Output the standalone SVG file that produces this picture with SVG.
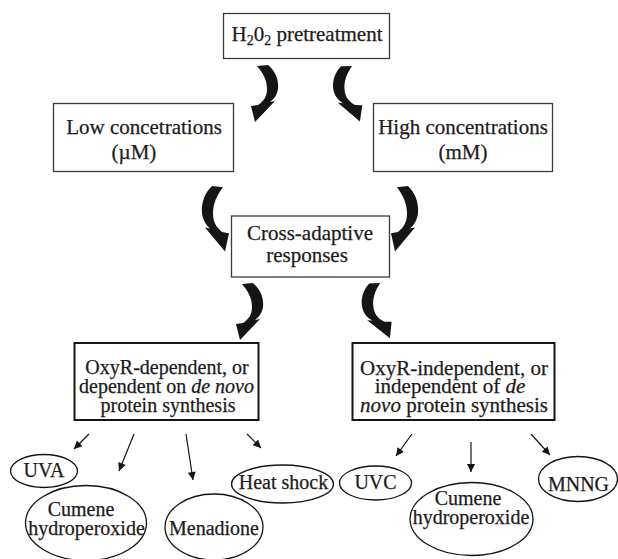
<svg xmlns="http://www.w3.org/2000/svg" xmlns:xlink="http://www.w3.org/1999/xlink" width="618" height="559" viewBox="0 0 618 559">
<style>
.box{fill:#fff;stroke:#3a3a3a;stroke-width:1.3}
.box2{fill:#fff;stroke:#151515;stroke-width:2}
.ell{fill:#fff;stroke:#151515;stroke-width:1.3}
.tx{font-family:'Liberation Serif','Times New Roman',serif;fill:#1e1b1c;stroke:#1e1b1c;stroke-width:0.25;text-anchor:middle}
.t21{font-size:21px}
.t20{font-size:20px}
.sub{font-size:14px}
.it{font-style:italic}
.thin{stroke:#151515;stroke-width:1.2;fill:none;marker-end:url(#ah)}
.big{fill:#151515}
</style>
<defs>
<marker id="ah" viewBox="0 0 10 10" refX="10" refY="5" markerUnits="userSpaceOnUse" markerWidth="9" markerHeight="8" orient="auto">
<path d="M0,0 L10,5 L0,10 z" fill="#151515"/>
</marker>
<path id="crv" d="M0,1 L11,0 C18,6 22,14 21,24 C20,30 17,34 13,37 L18,36 L-2,57 L-6,41 L1,40 C7,36 10,31 10,24 C10,15 6,8 0,1 Z"/>
</defs>

<g id="connectors">
<use xlink:href="#crv" class="big" transform="translate(257,65)"/>
<use xlink:href="#crv" class="big" transform="translate(352,65) rotate(-6) scale(-1,1)"/>
<use xlink:href="#crv" class="big" transform="translate(223,186) scale(-1,1.15)"/>
<use xlink:href="#crv" class="big" transform="translate(397,186) scale(1,1.15)"/>
<use xlink:href="#crv" class="big" transform="translate(242,283)"/>
<use xlink:href="#crv" class="big" transform="translate(380,282) rotate(-8) scale(-1,1)"/>
<line class="thin" x1="89" y1="434" x2="74" y2="449"/>
<line class="thin" x1="134" y1="434" x2="119" y2="471"/>
<line class="thin" x1="186" y1="434" x2="193" y2="480"/>
<line class="thin" x1="247" y1="434" x2="261" y2="448"/>
<line class="thin" x1="412" y1="434" x2="396" y2="456"/>
<line class="thin" x1="471" y1="442" x2="471" y2="472"/>
<line class="thin" x1="531" y1="434" x2="550" y2="455"/>
</g>

<g id="h2o2">
<rect class="box" x="223.5" y="13.5" width="166" height="45"/>
<text class="tx t21" x="307" y="41">H<tspan class="sub" dy="4">2</tspan><tspan dy="-4">0</tspan><tspan class="sub" dy="4">2</tspan><tspan dy="-4"> pretreatment</tspan></text>
</g>

<g id="low">
<rect class="box" x="53.5" y="103.5" width="180" height="68"/>
<text class="tx t21"><tspan x="144" y="134">Low concetrations</tspan><tspan x="134" y="159">(µM)</tspan></text>
</g>

<g id="high">
<rect class="box" x="373.5" y="103.5" width="179" height="68"/>
<text class="tx t21"><tspan x="463" y="134">High concentrations</tspan><tspan x="463" y="159">(mM)</tspan></text>
</g>

<g id="cross">
<rect class="box" x="231.5" y="216" width="158" height="61"/>
<text class="tx t21"><tspan x="310" y="240">Cross-adaptive</tspan><tspan x="307" y="262">responses</tspan></text>
</g>

<g id="oxyr-dep">
<rect class="box2" x="74.5" y="343" width="184" height="77"/>
<text class="tx t20"><tspan x="167" y="374">OxyR-dependent, or</tspan><tspan x="166.5" y="393">dependent on <tspan class="it">de novo</tspan></tspan><tspan x="168" y="412">protein synthesis</tspan></text>
</g>

<g id="oxyr-indep">
<rect class="box2" x="352.5" y="343" width="202" height="77"/>
<text class="tx t21"><tspan x="454" y="375">OxyR-independent, or</tspan><tspan x="450" y="393">independent of <tspan class="it">de</tspan></tspan><tspan x="454" y="412"><tspan class="it">novo</tspan> protein synthesis</tspan></text>
</g>

<g id="uva">
<ellipse class="ell" cx="44" cy="471" rx="33.5" ry="16.5"/>
<text class="tx t20" x="44" y="476.5">UVA</text>
</g>

<g id="cumene-left">
<ellipse class="ell" cx="86" cy="523" rx="60.5" ry="37.5"/>
<text class="tx t20"><tspan x="81" y="516">Cumene</tspan><tspan x="86.5" y="535">hydroperoxide</tspan></text>
</g>

<g id="menadione">
<ellipse class="ell" cx="214" cy="527" rx="49" ry="33"/>
<text class="tx t20" x="214" y="535">Menadione</text>
</g>

<g id="heat-shock">
<ellipse class="ell" cx="282.5" cy="484" rx="51" ry="19"/>
<text class="tx t20" x="283.5" y="489">Heat shock</text>
</g>

<g id="uvc">
<ellipse class="ell" cx="375.5" cy="483" rx="36" ry="17"/>
<text class="tx t20" x="375.5" y="489">UVC</text>
</g>

<g id="cumene-right">
<ellipse class="ell" cx="471.5" cy="519" rx="61.5" ry="36.5"/>
<text class="tx t20"><tspan x="468" y="505">Cumene</tspan><tspan x="471" y="524">hydroperoxide</tspan></text>
</g>

<g id="mnng">
<ellipse class="ell" cx="578" cy="479" rx="39.5" ry="22.5"/>
<text class="tx t20" x="578.5" y="491">MNNG</text>
</g>
</svg>
